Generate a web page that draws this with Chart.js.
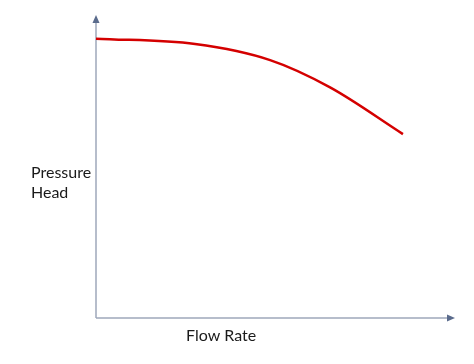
<!DOCTYPE html>
<html>
<head>
<meta charset="utf-8">
<script src="https://cdn.jsdelivr.net/npm/chart.js@4"></script>
<style>
  html, body { margin: 0; padding: 0; background: #fff; }
  #wrap { width: 474px; height: 364px; }
</style>
</head>
<body>
<div id="wrap"><canvas id="pumpCurve" width="474" height="364"></canvas></div>
<script>
// valores (escala 0-100 en ambos ejes)
var flowRate = [0, 27.6, 48.5, 65.2, 85.5];
var pressureHead = [92.2, 90.4, 85.1, 76.1, 60.7];
var xLabel = 'Flow Rate';
var yLabel = ['Pressure', 'Head'];

var points = flowRate.map(function(v, i) {
    return { x: v, y: pressureHead[i] };
});

// ejes con flecha y etiquetas de texto
var axesPlugin = {
    id: 'axesArrows',
    beforeDatasetsDraw: function(chart) {
        var ctx = chart.ctx;
        var xs = chart.scales.x, ys = chart.scales.y;
        var x0 = xs.getPixelForValue(0), x1 = xs.getPixelForValue(100);
        var y0 = ys.getPixelForValue(0), y1 = ys.getPixelForValue(100);
        ctx.save();
        ctx.strokeStyle = '#9ea8bb';
        ctx.fillStyle = '#5a6b8c';
        ctx.lineWidth = 1.5;
        ctx.beginPath();
        ctx.moveTo(x0, y0);
        ctx.lineTo(x0, y1 + 4);
        ctx.moveTo(x0, y0);
        ctx.lineTo(x1 - 4, y0);
        ctx.stroke();
        ctx.beginPath();
        ctx.moveTo(x0, y1);
        ctx.lineTo(x0 - 3.5, y1 + 8);
        ctx.lineTo(x0 + 3.5, y1 + 8);
        ctx.closePath();
        ctx.fill();
        ctx.beginPath();
        ctx.moveTo(x1, y0);
        ctx.lineTo(x1 - 8, y0 - 3.5);
        ctx.lineTo(x1 - 8, y0 + 3.5);
        ctx.closePath();
        ctx.fill();

        ctx.fillStyle = '#1a1a1a';
        ctx.font = '16px Lato, "Open Sans", sans-serif';
        ctx.textBaseline = 'alphabetic';
        ctx.textAlign = 'left';
        ctx.fillText(yLabel[0], 31, 178);
        ctx.fillText(yLabel[1], 31, 198);
        ctx.fillText(xLabel, 186, 341);
        ctx.restore();
    }
};

var ctx = document.getElementById('pumpCurve').getContext('2d');
var chart = new Chart(ctx, {
    type: 'line',
    data: {
        datasets: [{
            data: points,
            borderColor: '#d40000',
            borderWidth: 2.5,
            pointRadius: 0,
            fill: false,
            cubicInterpolationMode: 'monotone',
            clip: false
        }]
    },
    options: {
        responsive: false,
        animation: false,
        layout: { padding: { left: 96, right: 19, top: 15, bottom: 46 } },
        plugins: { legend: { display: false }, tooltip: { enabled: false } },
        scales: {
            x: { type: 'linear', min: 0, max: 100, display: false },
            y: { type: 'linear', min: 0, max: 100, display: false }
        }
    },
    plugins: [axesPlugin]
});
</script>
</body>
</html>
